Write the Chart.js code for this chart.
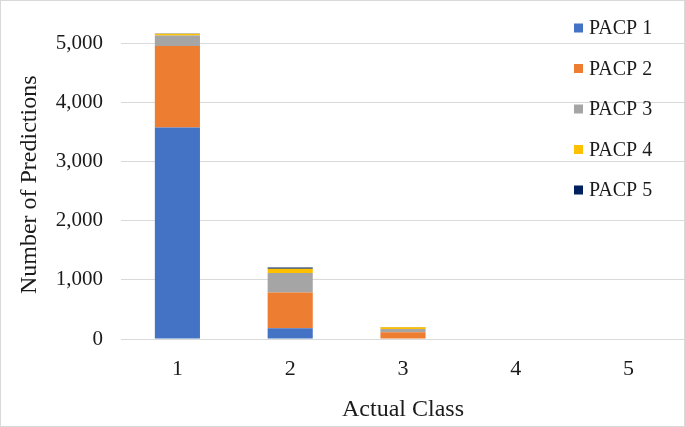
<!DOCTYPE html>
<html>
<head>
<meta charset="utf-8">
<script src="https://cdn.jsdelivr.net/npm/chart.js@4/dist/chart.umd.min.js"></script>
<style>
html,body{margin:0;padding:0;background:#fff;}
#wrap{width:685px;height:427px;position:relative;}
</style>
</head>
<body>
<div id="wrap"><canvas id="c" width="685" height="427"></canvas></div>
<script>
const categories = ['1', '2', '3', '4', '5'];
const seriesNames = ['PACP 1', 'PACP 2', 'PACP 3', 'PACP 4', 'PACP 5'];
const pacp1 = [3580, 180, 8, 0, 0];
const pacp2 = [1380, 606, 105, 0, 0];
const pacp3 = [175, 331, 55, 0, 0];
const pacp4 = [30, 73, 30, 0, 0];
const pacp5 = [5, 22, 7, 0, 0];
const yTickValues = [0, 1000, 2000, 3000, 4000, 5000];
const colors = ['#4472C4', '#ED7D31', '#A5A5A5', '#FFC000', '#002060'];

const seriesValues = [pacp1, pacp2, pacp3, pacp4, pacp5];
const SERIF = '"Liberation Serif", "Times New Roman", serif';

const legendPlugin = {
  id: 'customLegend',
  afterDraw(chart) {
    const ctx = chart.ctx;
    ctx.save();
    ctx.font = '20px ' + SERIF;
    ctx.textBaseline = 'middle';
    ctx.textAlign = 'left';
    chart.data.datasets.forEach((ds, i) => {
      const y = 28 + i * 40.5;
      ctx.fillStyle = ds.backgroundColor;
      ctx.fillRect(574, y - 4.5, 9, 9);
      ctx.fillStyle = '#1a1a1a';
      ctx.fillText(ds.label, 589, y + 1);
    });
    ctx.strokeStyle = '#d9d9d9';
    ctx.lineWidth = 1;
    ctx.strokeRect(0.5, 0.5, chart.width - 1, chart.height - 1);
    ctx.restore();
  }
};

new Chart(document.getElementById('c'), {
  type: 'bar',
  data: {
    labels: categories,
    datasets: seriesNames.map((n, i) => ({
      label: n,
      data: seriesValues[i],
      backgroundColor: colors[i],
      borderWidth: 0,
      barPercentage: 0.4,
      categoryPercentage: 1.0
    }))
  },
  options: {
    responsive: false,
    animation: false,
    devicePixelRatio: 1,
    layout: { padding: { top: 10, right: 0, bottom: 0, left: 0 } },
    plugins: { legend: { display: false }, tooltip: { enabled: false } },
    scales: {
      x: {
        stacked: true,
        grid: { display: false, drawTicks: false },
        border: { display: true, color: '#d9d9d9', width: 1 },
        ticks: { font: { family: SERIF, size: 22 }, color: '#1a1a1a', padding: 17 },
        title: { display: true, text: 'Actual Class', font: { family: SERIF, size: 24 }, color: '#1a1a1a', padding: { top: 0, bottom: 3 } },
        afterFit(scale) { scale.height = 88; }
      },
      y: {
        stacked: true,
        min: 0,
        max: 5220,
        grid: { color: '#d9d9d9', lineWidth: 1, drawTicks: false },
        border: { display: false },
        afterBuildTicks(scale) {
          scale.ticks = yTickValues.map(v => ({ value: v }));
        },
        ticks: {
          font: { family: SERIF, size: 21 },
          color: '#1a1a1a',
          padding: 18,
          callback: (v) => Number(v).toLocaleString('en-US')
        },
        title: { display: true, text: 'Number of Predictions', font: { family: SERIF, size: 24 }, color: '#1a1a1a', padding: { top: 15, bottom: 0 } },
        afterFit(scale) { scale.width = 121; }
      }
    }
  },
  plugins: [legendPlugin]
});
</script>
</body>
</html>
